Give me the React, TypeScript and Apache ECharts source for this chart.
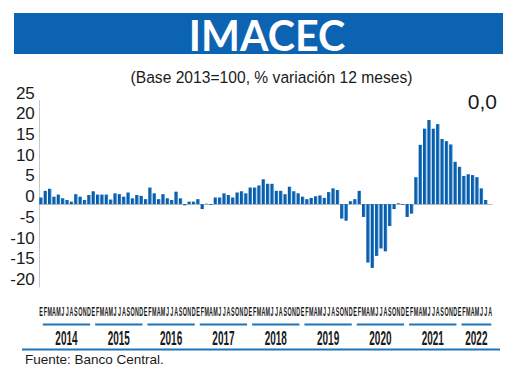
import React, { useEffect, useRef } from "react";
import * as echarts from "echarts";

const years = ["2014", "2015", "2016", "2017", "2018", "2019", "2020", "2021", "2022"];
const monthLetters = ["E", "F", "M", "A", "M", "J", "J", "A", "S", "O", "N", "D"];

const v2014 = [1.6, 3.2, 3.7, 1.8, 2.3, 1.4, 1.0, 0.6, 2.4, 1.8, 1.0, 2.2];
const v2015 = [3.1, 2.3, 2.3, 2.3, 1.1, 2.6, 2.4, 1.8, 2.8, 1.4, 2.2, 2.0];
const v2016 = [1.2, 4.0, 2.6, 1.2, 2.4, 1.4, 1.0, 3.0, 1.4, -0.3, 0.6, 0.6];
const v2017 = [1.2, -1.2, 0.1, -0.2, 1.6, 1.6, 2.6, 2.2, 1.6, 2.8, 3.1, 2.6];
const v2018 = [4.0, 4.0, 4.5, 6.0, 4.9, 4.9, 3.2, 3.2, 2.4, 4.2, 3.1, 2.6];
const v2019 = [1.8, 1.2, 1.5, 1.9, 2.1, 1.5, 2.9, 3.8, 3.4, -3.5, -4.0, 0.7];
const v2020 = [1.2, 3.2, -3.1, -14.1, -15.4, -12.5, -10.7, -11.4, -5.3, -1.2, 0.2, -0.2];
const v2021 = [-3.1, -2.3, 6.5, 14.3, 18.2, 20.3, 18.2, 19.3, 15.7, 15.2, 14.4, 10.2];
const v2022 = [9.0, 6.8, 7.2, 7.0, 6.5, 3.8, 1.0, 0.0];

const values = [...v2014, ...v2015, ...v2016, ...v2017, ...v2018, ...v2019, ...v2020, ...v2021, ...v2022];
const categories = values.map((_, i) => `${years[Math.floor(i / 12)]}-${String((i % 12) + 1).padStart(2, "0")}`);

const yMin = -20;
const yMax = 25;
const yInterval = 5;

const titleText = "IMACEC";
const subtitleText = "(Base 2013=100, % variación 12 meses)";
const lastValueText = "0,0";
const sourceText = "Fuente: Banco Central.";

const BLUE = "#0b63b2";

export default function App() {
  const ref = useRef<HTMLDivElement>(null);
  useEffect(() => {
    const chart = echarts.init(ref.current!, null, { renderer: "svg" });
    chart.setOption({
      animation: false,
      grid: { left: 38.8, right: 27.7, top: 100.5, bottom: 83, containLabel: false },
      xAxis: {
        type: "category",
        data: categories,
        axisLine: { show: true, onZero: true, lineStyle: { color: "#bdbdbd", width: 1 } },
        axisTick: { show: false },
        axisLabel: { show: false },
        splitLine: { show: false },
      },
      yAxis: {
        type: "value",
        min: yMin,
        max: yMax,
        interval: yInterval,
        axisLine: { show: true, lineStyle: { color: "#c8c8c8", width: 1 } },
        axisTick: { show: false },
        splitLine: { show: false },
        axisLabel: {
          margin: 4,
          fontFamily: "Liberation Sans",
          fontSize: 17,
          color: "#1a1a1a",
          verticalAlign: "bottom",
          lineHeight: 15,
        },
      },
      series: [
        {
          type: "bar",
          data: values,
          barCategoryGap: "22%",
          itemStyle: {
            color: new echarts.graphic.LinearGradient(0, 0, 1, 0, [
              { offset: 0, color: "#0a58a3" },
              { offset: 0.55, color: "#0a5fae" },
              { offset: 1, color: "#3f95d8" },
            ]),
          },
        },
      ],
    });

    const px = (i: number) => chart.convertToPixel({ xAxisIndex: 0 }, i) as number;
    const bw = px(1) - px(0);
    const graphics: any[] = [];
    graphics.push({
      type: "rect",
      shape: { x: 14, y: 13, width: 489, height: 41 },
      style: { fill: BLUE },
    });
    graphics.push({
      type: "text",
      x: 267,
      y: 35,
      scaleX: 0.98,
      style: {
        text: titleText,
        fill: "#ffffff",
        font: "bold 42px Lato",
        align: "center",
        verticalAlign: "middle",
      },
    });
    graphics.push({
      type: "text",
      x: 271.5,
      y: 77,
      scaleX: 0.92,
      style: {
        text: subtitleText,
        fill: "#1a1a1a",
        font: "17px 'Liberation Sans'",
        align: "center",
        verticalAlign: "middle",
      },
    });
    graphics.push({
      type: "text",
      x: 497,
      y: 101,
      style: {
        text: lastValueText,
        fill: "#1a1a1a",
        font: "21px 'Liberation Sans'",
        align: "right",
        verticalAlign: "middle",
      },
    });
    values.forEach((_, i) => {
      graphics.push({
        type: "text",
        x: px(i),
        y: 312.5,
        scaleX: 0.45,
        style: {
          text: monthLetters[i % 12],
          fill: "#1a1a1a",
          font: "bold 12px 'Liberation Sans'",
          align: "center",
          verticalAlign: "middle",
        },
      });
    });
    years.forEach((y, k) => {
      const start = k * 12;
      const end = Math.min(values.length - 1, k * 12 + 11);
      const x1 = px(start) - bw / 2 + 4;
      const x2 = px(end) + bw / 2 - 1;
      graphics.push({
        type: "line",
        shape: { x1, y1: 324.5, x2, y2: 324.5 },
        style: { stroke: "#1f74b8", lineWidth: 2 },
      });
      graphics.push({
        type: "text",
        x: (x1 + x2) / 2,
        y: 338,
        scaleX: 0.5,
        style: {
          text: y,
          fill: "#1a1a1a",
          font: "bold 20px 'Liberation Sans'",
          align: "center",
          verticalAlign: "middle",
        },
      });
    });
    graphics.push({
      type: "line",
      shape: { x1: 22, y1: 349.5, x2: 500, y2: 349.5 },
      style: { stroke: "#1f74b8", lineWidth: 2 },
    });
    graphics.push({
      type: "text",
      x: 25,
      y: 359,
      style: {
        text: sourceText,
        fill: "#1a1a1a",
        font: "13.5px 'Liberation Sans'",
        align: "left",
        verticalAlign: "middle",
      },
    });
    chart.setOption({ graphic: graphics });
    return () => chart.dispose();
  }, []);
  return (
    <div
      ref={ref}
      style={{ position: "absolute", left: 0, top: 0, width: 520, height: 370, background: "#ffffff" }}
    />
  );
}
